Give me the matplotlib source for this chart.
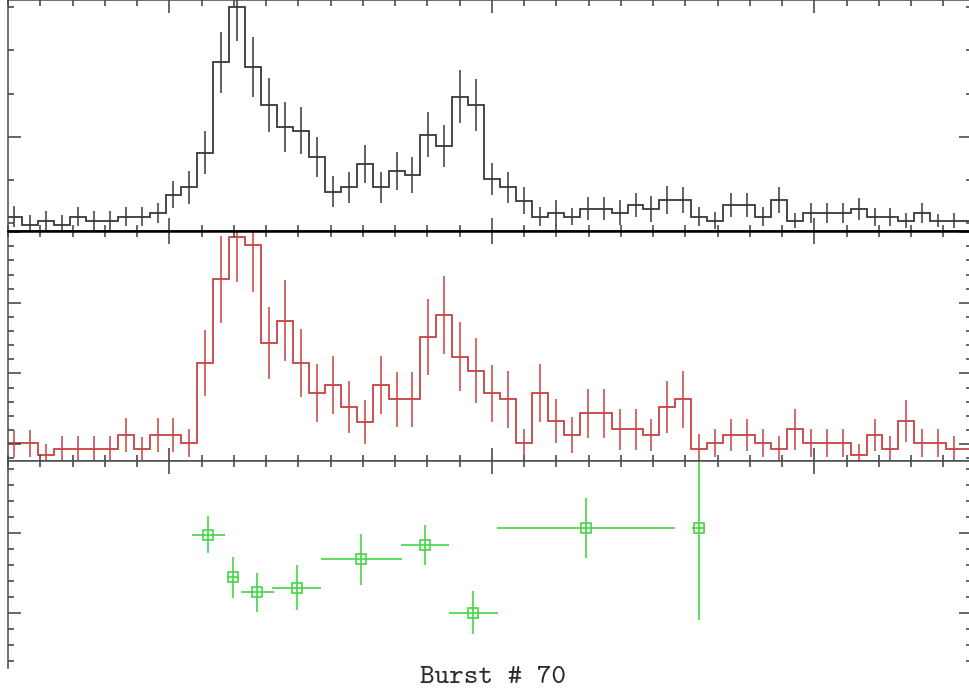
import numpy as np
import matplotlib.pyplot as plt
from matplotlib.ticker import MultipleLocator

# time binning of the light curves (s)
t_start = -5.056
bin_width = 0.494

# channel 1 light curve (counts per bin) and 1-sigma errors
counts_lo = [629, 590, 610, 590, 629, 610, 610, 629, 629, 647,
             730, 765, 926, 1345, 1603, 1325, 1147, 1046, 1028, 907,
             745, 765, 872, 765, 842, 822, 1008, 958, 1186, 1147,
             802, 765, 702, 629, 645, 629, 665, 665, 647, 683,
             665, 706, 706, 629, 610, 683, 683, 629, 706, 610,
             647, 647, 647, 665, 629, 629, 610, 647, 610, 610, 610]
err_lo = [50, 45, 45, 45, 45, 45, 45, 45, 45, 47,
          62, 77, 100, 142, 160, 139, 124, 116, 108, 93,
          70, 73, 88, 73, 88, 85, 104, 98, 124, 121,
          75, 73, 62, 45, 62, 39, 54, 54, 57, 57,
          60, 65, 62, 46, 39, 56, 56, 46, 62, 35,
          46, 46, 46, 50, 42, 42, 35, 46, 31, 35, 40]

# channel 2 light curve
counts_hi = [101.0, 101.0, 84.4, 92.5, 92.5, 92.5, 92.5, 112.7, 92.5, 112.7,
             112.7, 101.0, 214.3, 333.3, 393.6, 381.9, 242.6, 274.6, 214.3, 171.8,
             183.6, 152.0, 131.6, 183.6, 163.3, 163.3, 251.1, 282.7, 223.7, 203.8,
             171.8, 163.3, 101.8, 172.7, 132.6, 112.7, 143.5, 143.5, 120.8, 120.8,
             112.7, 152.0, 163.3, 92.5, 101.8, 112.7, 112.7, 101.8, 92.5, 120.8,
             101.8, 101.8, 101.8, 84.4, 112.7, 92.5, 133.0, 101.8, 101.8, 92.5, 92.5]
err_hi = [19, 19, 16, 19, 19, 19, 19, 24, 18, 24,
          24, 20, 47, 62, 64, 66, 51, 57, 48, 41,
          41, 37, 31, 41, 39, 39, 54, 55, 49, 46,
          40, 40, 19, 41, 31, 25, 35, 35, 29, 29,
          22, 37, 40, 21, 20, 23, 23, 20, 19, 29,
          20, 20, 20, 15, 22, 19, 30, 20, 20, 19, 19]

# spectral fit points: time, half-width, value, error
fit_t = [1.211, 1.967, 2.730, 3.952, 5.946, 7.930, 9.428, 12.922, 16.417]
fit_dt = [0.505, 0.19, 0.518, 0.766, 1.256, 0.750, 0.760, 2.76, 0.2]
fit_val = [197.9, 145.0, 125.8, 132.0, 167.5, 185.4, 100.8, 206.3, 206.3]
fit_err = [22.9, 25.6, 24.6, 28.5, 31.9, 25.0, 27.1, 36.9, 114.6]

edges = t_start + bin_width * np.arange(len(counts_lo) + 1)
centers = 0.5 * (edges[:-1] + edges[1:])

W, H = 970, 691
fig = plt.figure(figsize=(W / 100, H / 100), dpi=100)

left = 8 / W
width = (972 - 8) / W
ax1 = fig.add_axes([left, 1 - 231 / H, width, 231 / H])
ax2 = fig.add_axes([left, 1 - 461 / H, width, 230 / H])
ax3 = fig.add_axes([left, 1 - 668 / H, width, 207 / H])

tick_col = '#3c3c3c'
for ax in (ax1, ax2, ax3):
    ax.set_xlim(-5, 24.89)
    ax.xaxis.set_major_locator(MultipleLocator(10))
    ax.xaxis.set_minor_locator(MultipleLocator(1))
    ax.tick_params(which='both', direction='in', top=True, right=True,
                   labelbottom=False, labelleft=False, color=tick_col, width=1.1)
    ax.tick_params(which='major', length=9.5)
    ax.tick_params(which='minor', length=4)
    for s in ax.spines.values():
        s.set_color('#4a4a4a')
        s.set_linewidth(1.1)

# top: channel 1
ax1.stairs(counts_lo, edges, color='#383838', lw=1.3)
ax1.errorbar(centers, counts_lo, yerr=err_lo, fmt='none', ecolor='#383838', elinewidth=1.1)
ax1.set_ylim(562, 1634)
ax1.yaxis.set_major_locator(MultipleLocator(1000))
ax1.yaxis.set_minor_locator(MultipleLocator(200))
ax1.spines['bottom'].set_color('black')
ax1.spines['bottom'].set_linewidth(1.8)

# middle: channel 2
ax2.stairs(counts_hi, edges, color='#c84242', lw=1.3)
ax2.errorbar(centers, counts_hi, yerr=err_hi, fmt='none', ecolor='#c84242', elinewidth=1.1)
ax2.set_ylim(75.9, 401.7)
ax2.yaxis.set_major_locator(MultipleLocator(100))
ax2.yaxis.set_minor_locator(MultipleLocator(20))
ax2.spines['top'].set_color('black')
ax2.spines['top'].set_linewidth(1.8)

# bottom: spectral parameter
ax3.errorbar(fit_t, fit_val, xerr=fit_dt, yerr=fit_err, fmt='s', ms=7.5,
             mfc='none', mec='#44d644', mew=1.2, ecolor='#44d644', elinewidth=1.2)
ax3.set_ylim(31.5, 290)
ax3.yaxis.set_major_locator(MultipleLocator(100))
ax3.yaxis.set_minor_locator(MultipleLocator(20))
ax3.spines['bottom'].set_visible(False)
ax3.tick_params(which='both', bottom=False)

fig.text(493 / W, 1 - 683 / H, 'Burst # 70', ha='center', va='baseline',
         family='cmtt10', fontsize=20, color='#2a2a2a')

fig.savefig('out.png', dpi=100)
